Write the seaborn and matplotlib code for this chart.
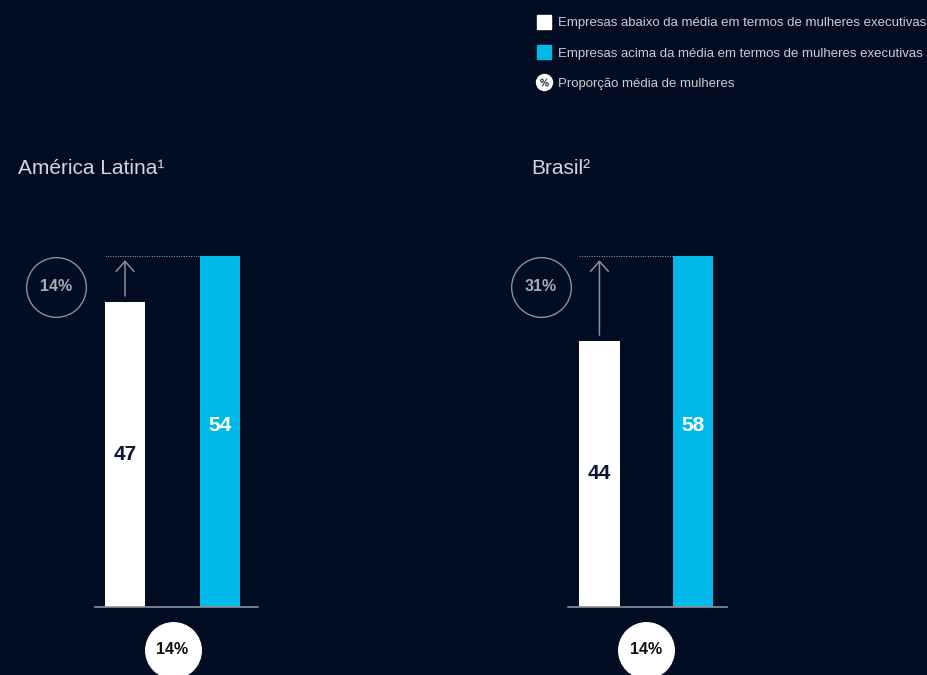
import pandas as pd
import matplotlib.pyplot as plt
import seaborn as sns
from matplotlib.lines import Line2D

# Colours
BG = '#020c22'
BLUE = '#00b9e8'
WHITE = '#ffffff'
GREY = '#8b909b'
TEXT = '#c9cdd6'
NAVY = '#0b1530'

# Data
regions = ['América Latina¹', 'Brasil²']
categories = ['Abaixo da média', 'Acima da média']
latam_values = [47, 54]
brasil_values = [44, 58]
gap_labels = ['14%', '31%']
avg_women_labels = ['14%', '14%']
legend_labels = [
    'Empresas abaixo da média em termos de mulheres executivas',
    'Empresas acima da média em termos de mulheres executivas',
    'Proporção média de mulheres',
]

sns.set_theme(style='white', rc={'figure.facecolor': BG, 'axes.facecolor': BG})
plt.rcParams['font.family'] = ['Liberation Sans', 'DejaVu Sans']

fig = plt.figure(figsize=(9.28, 6.75), dpi=100)

# layout per panel (figure fractions / data units)
panels = [
    dict(rect=[0.1024, 0.1007, 0.1756, 0.52], xlim=(-0.316, 1.4), title_x=0.019, badge_x=-0.726),
    dict(rect=[0.612, 0.1007, 0.1713, 0.52], xlim=(-0.337, 1.364), title_x=0.572, badge_x=-0.626),
]
BAR_W = 0.43

for region, values, gap, avg, p in zip(regions, [latam_values, brasil_values],
                                       gap_labels, avg_women_labels, panels):
    df = pd.DataFrame({'categoria': categories, 'valor': values})
    ax = fig.add_axes(p['rect'])
    sns.barplot(data=df, x='categoria', y='valor', hue='categoria',
                palette=[WHITE, BLUE], width=BAR_W, saturation=1,
                errorbar=None, linewidth=0, legend=False, ax=ax)
    vmax = max(values)
    ax.set_ylim(0, vmax)
    ax.set_xlim(*p['xlim'])
    ax.set_xlabel('')
    ax.set_ylabel('')
    ax.set_xticks([])
    ax.set_yticks([])
    for side in ['top', 'right', 'left']:
        ax.spines[side].set_visible(False)
    ax.spines['bottom'].set_color(GREY)
    ax.spines['bottom'].set_linewidth(1.2)

    # value labels inside bars
    for i, v in enumerate(values):
        ax.text(i, v / 2 + (1 if i else 0), str(v), ha='center', va='center',
                fontsize=15, fontweight='bold', color=NAVY if i == 0 else WHITE)

    # dotted reference line + arrow showing the gap
    ax.plot([-BAR_W / 2, 1 - BAR_W / 2], [vmax, vmax], color=GREY, lw=0.8,
            ls=(0, (1, 1.2)), clip_on=False)
    ax.annotate('', xy=(0, vmax), xytext=(0, values[0]),
                arrowprops=dict(arrowstyle='->,head_length=0.36,head_width=0.32',
                                color=GREY, lw=1.1, shrinkA=4, shrinkB=3,
                                mutation_scale=20))

    # gap badge (outlined circle)
    ax.plot(p['badge_x'], 0.913 * vmax, marker='o', ms=43, mfc='none',
            mec=GREY, mew=1, clip_on=False)
    ax.text(p['badge_x'], 0.913 * vmax, gap, ha='center', va='center',
            fontsize=11.5, fontweight='bold', color='#a7abb3')

    # average share of women badge (white circle)
    ax.plot(0.5, -0.122 * vmax, marker='o', ms=40, mfc=WHITE, mec=WHITE,
            clip_on=False)
    ax.text(0.5, -0.122 * vmax, avg, ha='center', va='center',
            fontsize=11.5, fontweight='bold', color='#111111')

    fig.text(p['title_x'], 0.751, region, ha='left', va='center',
             fontsize=15, color='#d3d6dd')

# legend
handles = [
    Line2D([], [], marker='s', ls='', ms=10, mfc=WHITE, mec=WHITE),
    Line2D([], [], marker='s', ls='', ms=10, mfc=BLUE, mec=BLUE),
    (Line2D([], [], marker='o', ls='', ms=11.5, mfc=WHITE, mec=WHITE),
     Line2D([], [], marker='$\\%$', ls='', ms=6, mew=0.3, color='#3a4255')),
]
fig.legend(handles=handles, labels=legend_labels, loc='upper left',
           bbox_to_anchor=(0.5787, 0.9746), frameon=False, fontsize=9.5,
           labelcolor=TEXT, handlelength=1.0, handletextpad=0.6,
           labelspacing=1.36, borderpad=0, borderaxespad=0)

fig.savefig('out.png', dpi=100, facecolor=BG)
